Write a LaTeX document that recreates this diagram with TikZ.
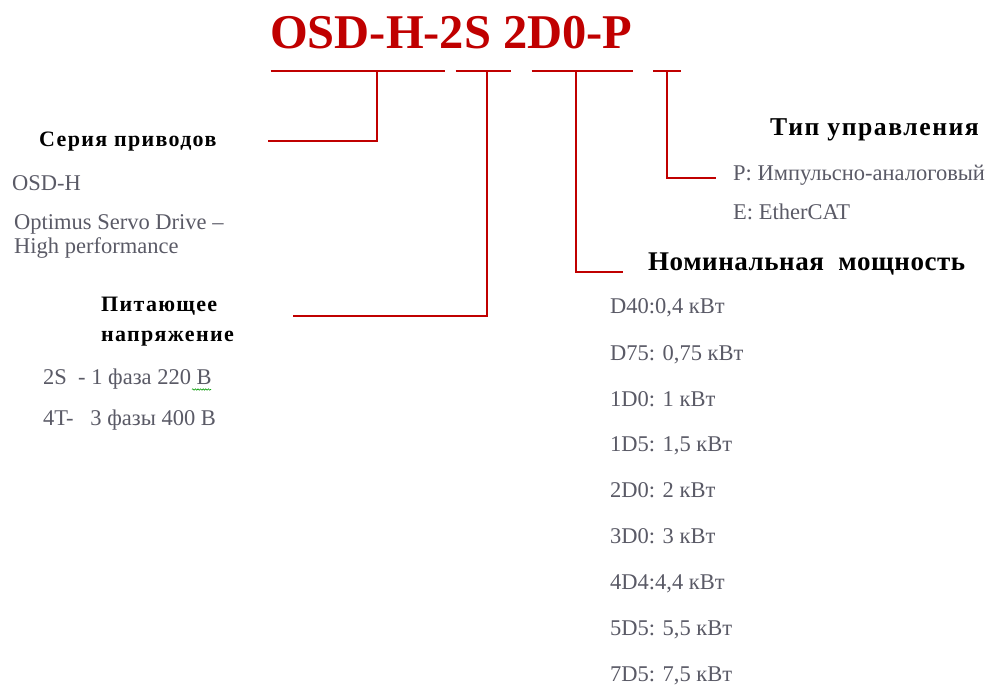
\documentclass[tikz,border=0pt]{standalone}
\usepackage{fontspec}
\setmainfont{Liberation Serif}
\newfontfamily\headfont[LetterSpace=6]{Liberation Serif}
\newfontfamily\tightfont[LetterSpace=2]{Liberation Serif}
\usepackage{tikz}
\usetikzlibrary{decorations.pathmorphing}
\definecolor{osdred}{RGB}{192,0,0}
\definecolor{itemgray}{RGB}{90,90,102}

\begin{document}
\begin{tikzpicture}[x=1pt,y=-1pt]
		\tikzset{head/.style={anchor=base west, inner sep=0pt, font=\headfont\bfseries\fontsize{#1}{#1}\selectfont}}
		\tikzset{item/.style={anchor=base west, inner sep=0pt, text=itemgray, font=\fontsize{22.5}{26}\selectfont}}
		\tikzset{bar/.style={draw=osdred, line width=2pt}}
		\tikzset{squiggle/.style={draw=green!60!black, line width=0.6pt,
				decoration={snake, amplitude=0.7pt, segment length=2.6pt}, decorate}}
		\useasboundingbox (0,0) rectangle (1000,688);
		%code
		\node[anchor=base west, inner sep=0pt, text=osdred, font=\bfseries\fontsize{48.5}{52}\selectfont] (code) at (270,48) {OSD-H-2S 2D0-P};
		%headings
		\node[head=22] (series) at (39,146) {Серия приводов};
		\node[head=22] (supply) at (101,311) {Питающее};
		\node[head=22] (supply2) at (101,341) {напряжение};
		\node[head=27, font=\tightfont\bfseries\fontsize{27}{27}\selectfont] (power) at (648,270) {Номинальная\ \ мощность};
		\node[head=25.7] (control) at (770,135.7) {Тип управления};
		%series
		\node[item] (osdh) at (12,190) {OSD-H};
		\node[item] (optimus) at (14,229) {Optimus Servo Drive –};
		\node[item] (optimus2) at (14,253) {High performance};
		%supply
		\node[item] (s2s) at (43,384.5) {2S\ \ - 1 фаза 220 В};
		\node[item] (s4t) at (43,425.5) {4T-\ \ \ 3 фазы 400 В};
		%control
		\node[item] (ctlp) at (733,180) {P: Импульсно-аналоговый};
		\node[item] (ctle) at (733,219.5) {E: EtherCAT};
		%power
		\node[item] (d40) at (610,313.3) {D40:0,4 кВт};
		\node[item] (d75) at (610,360.7) {D75: 0,75 кВт};
		\node[item] (p1d0) at (610,406) {1D0: 1 кВт};
		\node[item] (p1d5) at (610,451.7) {1D5: 1,5 кВт};
		\node[item] (p2d0) at (610,497.3) {2D0: 2 кВт};
		\node[item] (p3d0) at (610,543.3) {3D0: 3 кВт};
		\node[item] (p4d4) at (610,589.3) {4D4:4,4 кВт};
		\node[item] (p5d5) at (610,635) {5D5: 5,5 кВт};
		\node[item] (p7d5) at (610,681) {7D5: 7,5 кВт};
		%bars
		\coordinate (b1a) at (270.7,71);
		\coordinate (b1b) at (445,71);
		\coordinate (b2a) at (455.7,71);
		\coordinate (b2b) at (511,71);
		\coordinate (b3a) at (531.7,71);
		\coordinate (b3b) at (632.7,71);
		\coordinate (b4a) at (653,71);
		\coordinate (b4b) at (680.7,71);
		\coordinate (j1) at (376.7,71);
		\coordinate (j2) at (487.3,71);
		\coordinate (j3) at (575.7,71);
		\coordinate (j4) at (666.7,71);
		\coordinate (e1) at (268,141);
		\coordinate (e2) at (293,315.5);
		\coordinate (e3) at (623,271.5);
		\coordinate (e4) at (716,177.5);
		\coordinate (w1) at (192,389.5);
		\coordinate (w2) at (211,389.5);
		%edges
		\draw[bar] (b1a) -- (b1b);
		\draw[bar] (b2a) -- (b2b);
		\draw[bar] (b3a) -- (b3b);
		\draw[bar] (b4a) -- (b4b);
		\draw[bar] (j1) |- (e1);
		\draw[bar] (j2) |- (e2);
		\draw[bar] (j3) |- (e3);
		\draw[bar] (j4) |- (e4);
		\draw[squiggle] (w1) -- (w2);
\end{tikzpicture}
\end{document}
